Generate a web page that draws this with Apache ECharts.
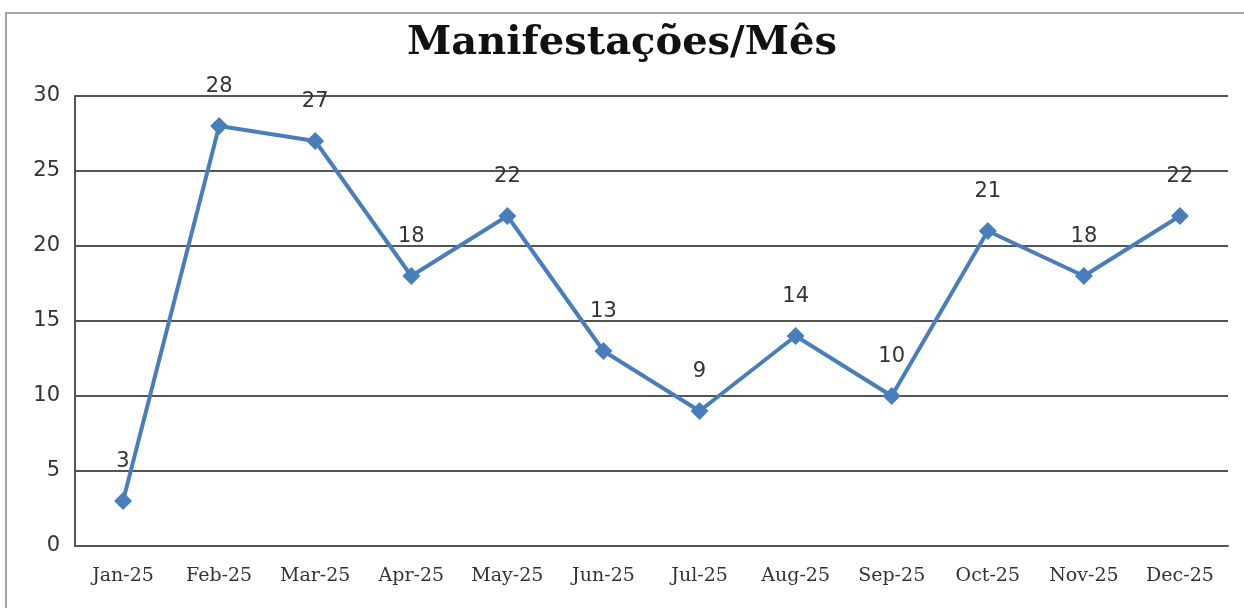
<!DOCTYPE html>
<html><head><meta charset="utf-8">
<script src="https://cdn.jsdelivr.net/npm/echarts@6/dist/echarts.min.js"></script>
<style>html,body{margin:0;padding:0;background:#fff}#c{width:1244px;height:608px}</style>
</head><body><div id="c"></div>
<script>
const categories = ['Jan-25','Feb-25','Mar-25','Apr-25','May-25','Jun-25','Jul-25','Aug-25','Sep-25','Oct-25','Nov-25','Dec-25'];
const values = [3,28,27,18,22,13,9,14,10,21,18,22];
const yTicks = [0,5,10,15,20,25,30];
const titleText = 'Manifestações/Mês';

const chart = echarts.init(document.getElementById('c'));
chart.setOption({
  animation:false,
  backgroundColor:'#fff',
  graphic:[{type:'rect',shape:{x:6,y:13,width:1250,height:620},style:{fill:'none',stroke:'#a6a6a6',lineWidth:2},silent:true}],
  title:{text:titleText,left:'center',top:19,textStyle:{fontFamily:'DejaVu Serif',fontWeight:'bold',fontSize:40,color:'#111'}},
  grid:{left:75,right:16,top:96,bottom:62},
  xAxis:{type:'category',data:categories,boundaryGap:true,
    axisLine:{lineStyle:{color:'#555',width:2}},axisTick:{show:false},
    axisLabel:{interval:0,margin:21,fontFamily:'DejaVu Serif',fontSize:19,color:'#333'}},
  yAxis:{type:'value',min:yTicks[0],max:yTicks[yTicks.length-1],interval:5,
    axisLine:{show:true,lineStyle:{color:'#555',width:2}},axisTick:{show:false},
    splitLine:{lineStyle:{color:'#555',width:2}},
    axisLabel:{margin:15,fontFamily:'DejaVu Sans',fontSize:21,color:'#333'}},
  series:[{type:'line',data:values,symbol:'diamond',symbolSize:18,
    itemStyle:{color:'#4a7ebb'},lineStyle:{color:'#4a7ebb',width:4},
    label:{show:true,position:'top',distance:20,fontFamily:'DejaVu Sans',fontSize:21,color:'#333'}}]
});
</script></body></html>
